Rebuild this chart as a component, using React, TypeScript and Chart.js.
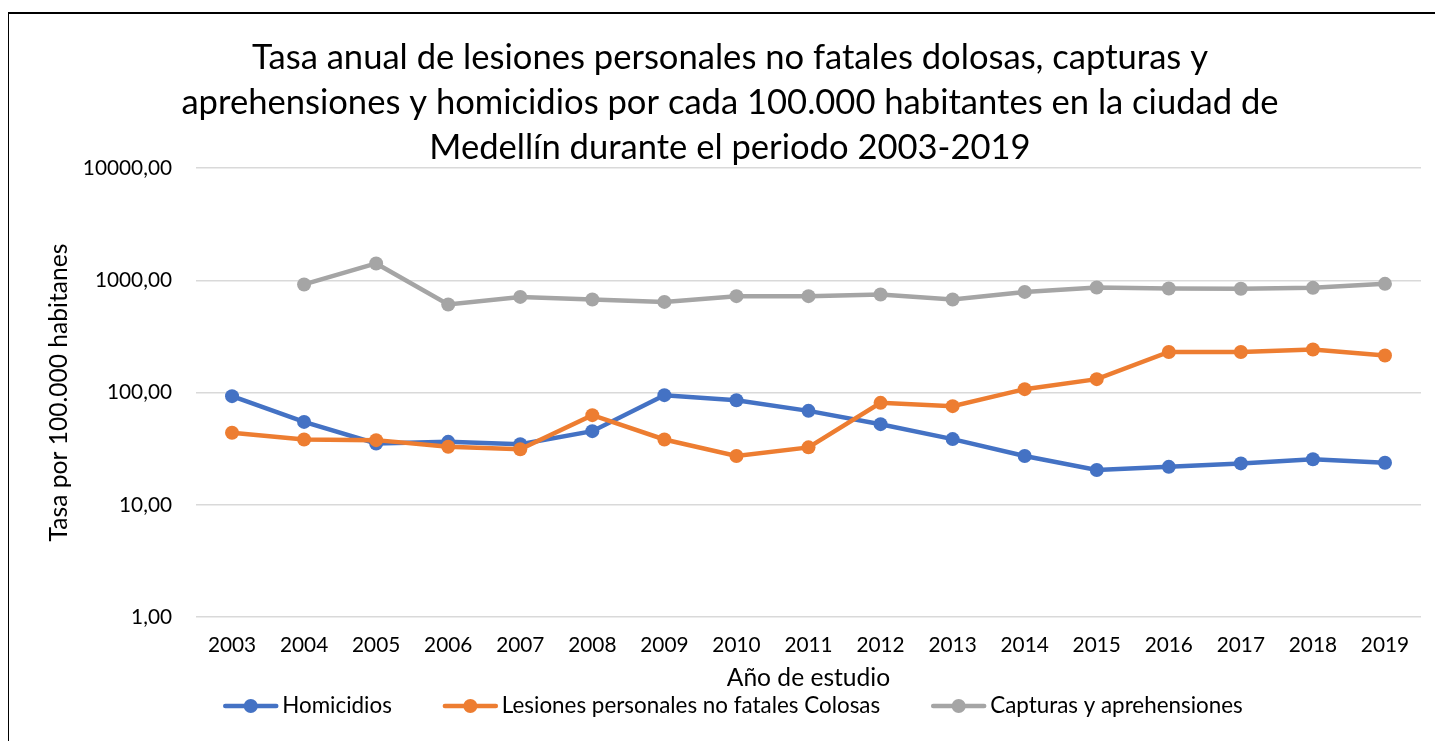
import React, { useEffect, useRef } from 'react';
import { Chart, registerables } from 'chart.js';

Chart.register(...registerables);

const years = ['2003', '2004', '2005', '2006', '2007', '2008', '2009', '2010', '2011', '2012', '2013', '2014', '2015', '2016', '2017', '2018', '2019'];
const homicidios = [92.9, 54.8, 35.2, 36.4, 34.7, 45.3, 94.8, 85.5, 68.7, 52.3, 38.5, 27.2, 20.4, 21.8, 23.4, 25.5, 23.7];
const lesiones = [43.8, 38.2, 37.7, 32.9, 31.3, 62.9, 38.2, 27.2, 32.5, 81.0, 75.7, 107.2, 131.6, 230, 230, 242, 214];
const capturas = [null, 918, 1412, 609, 711, 675, 642, 722, 722, 747, 675, 788, 863, 845, 840, 856, 929];
const yTickValues = [1, 10, 100, 1000, 10000];
const seriesNames = ['Homicidios', 'Lesiones personales no fatales Colosas', 'Capturas y aprehensiones'];
const seriesColors = ['#4472C4', '#ED7D31', '#A5A5A5'];
const titleLines = [
  'Tasa anual de lesiones personales no fatales dolosas, capturas y',
  'aprehensiones y homicidios por cada 100.000 habitantes en la ciudad de',
  'Medellín durante el periodo 2003-2019',
];
const xTitle = 'Año de estudio';
const yTitle = 'Tasa por 100.000 habitanes';

const FONT = 'Lato';
const LEGEND_CX = 725;
const LEGEND_Y = 694;

const legendPlugin = {
  id: 'excelLegend',
  afterDraw(chart: any) {
    const ctx = chart.ctx as CanvasRenderingContext2D;
    ctx.save();
    ctx.font = `22.4px ${FONT}`;
    const markerW = 55;
    const gapText = 4;
    const gapItem = 51;
    const items = chart.data.datasets.map((ds: any) => ({
      label: ds.label as string,
      color: ds.borderColor as string,
      w: ctx.measureText(ds.label).width,
    }));
    const total = items.reduce((s: number, it: any) => s + markerW + gapText + it.w, 0) + gapItem * (items.length - 1);
    let x = LEGEND_CX - total / 2;
    const y = LEGEND_Y;
    for (const it of items) {
      ctx.strokeStyle = it.color;
      ctx.lineWidth = 4.5;
      ctx.lineCap = 'round';
      ctx.beginPath();
      ctx.moveTo(x + 2, y);
      ctx.lineTo(x + markerW - 2, y);
      ctx.stroke();
      ctx.fillStyle = it.color;
      ctx.beginPath();
      ctx.arc(x + markerW / 2, y, 7, 0, Math.PI * 2);
      ctx.fill();
      ctx.fillStyle = '#000';
      ctx.textBaseline = 'middle';
      ctx.textAlign = 'left';
      ctx.fillText(it.label, x + markerW + gapText, y);
      x += markerW + gapText + it.w + gapItem;
    }
    ctx.restore();
  },
};

export default function App() {
  const ref = useRef<HTMLCanvasElement | null>(null);

  useEffect(() => {
    if (!ref.current) return;
    Chart.defaults.font.family = FONT;
    const mk = (i: number, data: (number | null)[], order: number) => ({
      label: seriesNames[i],
      data,
      borderColor: seriesColors[i],
      backgroundColor: seriesColors[i],
      pointBackgroundColor: seriesColors[i],
      pointBorderColor: seriesColors[i],
      pointBorderWidth: 0,
      pointRadius: 7,
      borderWidth: 4.5,
      tension: 0,
      order,
    });
    const chart = new Chart(ref.current, {
      type: 'line',
      data: {
        labels: years,
        datasets: [mk(0, homicidios, 1), mk(1, lesiones, 0), mk(2, capturas, 2)],
      },
      options: {
        responsive: false,
        animation: false,
        layout: { padding: { left: 31, right: 27, top: 0, bottom: 59.2 } },
        plugins: {
          legend: { display: false },
          tooltip: { enabled: false },
          title: {
            display: true,
            text: titleLines,
            color: '#000',
            font: { family: FONT, size: 34.6, weight: 'normal', lineHeight: 45 / 34.6 },
            padding: { top: 23.5, bottom: -2.5 },
          },
        },
        scales: {
          x: {
            type: 'category',
            offset: true,
            grid: { display: false, drawTicks: false },
            border: { display: false },
            ticks: { color: '#000', font: { size: 20.8 }, padding: 15.5, autoSkip: false, maxRotation: 0 },
            title: { display: true, text: xTitle, color: '#000', font: { size: 24.6 }, padding: { top: -9.8, bottom: 0 } },
          },
          y: {
            type: 'logarithmic',
            min: 1,
            max: 10000,
            grid: { color: '#d9d9d9', lineWidth: 1.5, drawTicks: false },
            border: { display: false },
            afterBuildTicks: (scale: any) => {
              scale.ticks = yTickValues.map((v) => ({ value: v }));
            },
            afterFit: (scale: any) => {
              scale.width = 157;
            },
            ticks: {
              color: '#000',
              font: { size: 20.8 },
              padding: 24,
              callback: (v: any) => Number(v).toFixed(2).replace('.', ','),
            },
            title: { display: true, text: yTitle, color: '#000', font: { size: 24.6 }, padding: { top: 5.7, bottom: 0 } },
          },
        },
      },
      plugins: [legendPlugin],
    });
    return () => chart.destroy();
  }, []);

  return (
    <div style={{ position: 'relative', marginLeft: -1, width: 1436, height: 733, overflow: 'hidden', background: '#fff' }}>
      <div style={{ position: 'absolute', left: 0, top: 4, width: 1500, height: 800, border: '2px solid #000', boxSizing: 'border-box' }} />
      <canvas ref={ref} width={1440} height={740} style={{ position: 'absolute', left: 1, top: 4, width: 1440, height: 740 }} />
    </div>
  );
}
